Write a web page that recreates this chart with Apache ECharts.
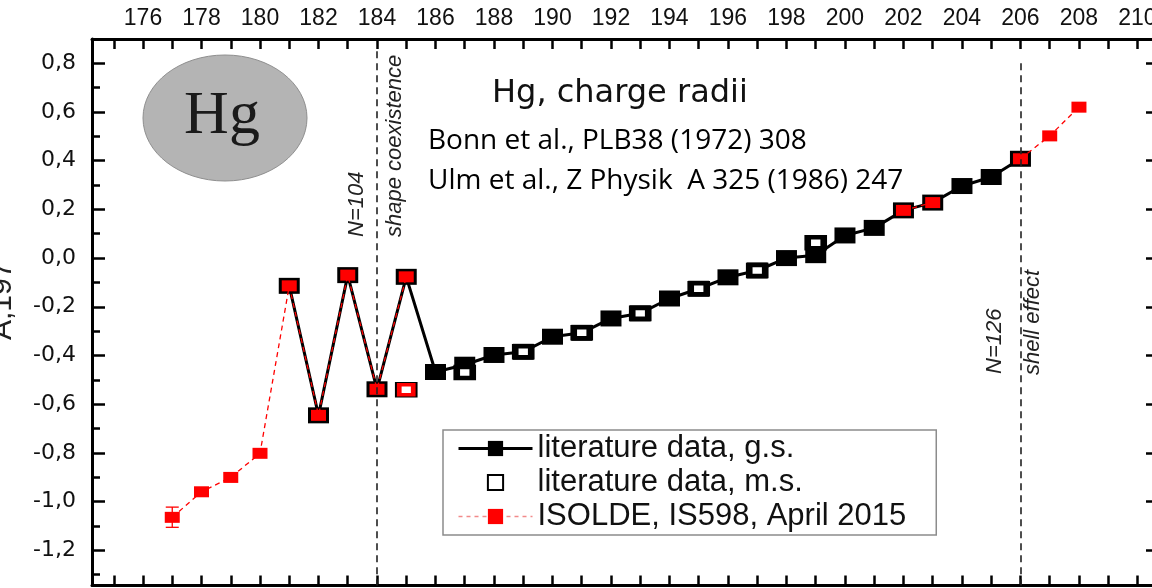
<!DOCTYPE html>
<html>
<head>
<meta charset="utf-8">
<script src="https://cdn.jsdelivr.net/npm/echarts@6/dist/echarts.min.js"></script>
<style>
  html, body { margin: 0; padding: 0; background: #fff; }
  #main { width: 1152px; height: 588px; }
</style>
</head>
<body>
<div id="main"></div>
<script>
// mass numbers and delta <r^2> values
const gsA = [181, 182, 183, 184, 185, 186, 187, 188, 189, 190, 191, 192, 193,
  194, 195, 196, 197, 198, 199, 200, 201, 202, 203, 204, 205, 206]
const gsV = [-0.114, -0.646, -0.070, -0.539, -0.077, -0.468, -0.438, -0.398, -0.385, -0.323, -0.307, -0.248, -0.227,
  -0.166, -0.126, -0.079, -0.051, 0.000, 0.012, 0.093, 0.124, 0.196, 0.228, 0.296, 0.333, 0.408]

const msA = [185, 187, 189, 191, 193, 195, 197, 199]
const msV = [-0.541, -0.470, -0.385, -0.307, -0.227, -0.126, -0.051, 0.063]

const isoA = [177, 178, 179, 180, 181, 182, 183, 184, 185, 202, 203, 206, 207, 208]
const isoV = [-1.065, -0.960, -0.901, -0.802, -0.114, -0.646, -0.070, -0.539, -0.077, 0.196, 0.228, 0.408, 0.502, 0.620]

const isoMsA = [185]
const isoMsV = [-0.541]

const errA = [177]
const errLo = [-1.106]
const errHi = [-1.023]

// axis ticks and labels
const xLabelValues = [176, 178, 180, 182, 184, 186, 188, 190, 192, 194, 196, 198, 200, 202, 204, 206, 208, 210]
const xTickValues = [175, 176, 177, 178, 179, 180, 181, 182, 183, 184, 185, 186, 187, 188, 189, 190, 191, 192,
  193, 194, 195, 196, 197, 198, 199, 200, 201, 202, 203, 204, 205, 206, 207, 208, 209, 210]
const yLabelValues = [-1.2, -1.0, -0.8, -0.6, -0.4, -0.2, 0.0, 0.2, 0.4, 0.6, 0.8]
const yMinorValues = [-1.3, -1.1, -0.9, -0.7, -0.5, -0.3, -0.1, 0.1, 0.3, 0.5, 0.7]

const pairs = (xs, ys) => xs.map((x, i) => [x, ys[i]])
// break the ISOLDE line where mass numbers are not consecutive
const isoData = []
isoA.forEach((a, i) => {
  if (i > 0 && a - isoA[i - 1] > 1) isoData.push([a - 0.5, '-'])
  isoData.push([a, isoV[i]])
})

const X_MIN = 174.256, X_MAX = 210.6, Y_MIN = -1.345, Y_MAX = 0.9
const sans = 'Liberation Sans, Arial, sans-serif'
const narrow = 'Liberation Sans Narrow, Liberation Sans, Arial, sans-serif'

const chart = echarts.init(document.getElementById('main'))

const baseX = {
  type: 'value', min: X_MIN, max: X_MAX, splitLine: { show: false },
  axisLine: { onZero: false, lineStyle: { color: '#000', width: 3 } }
}
const baseY = {
  type: 'value', min: Y_MIN, max: Y_MAX, splitLine: { show: false },
  axisLine: { onZero: false, lineStyle: { color: '#000', width: 3 } }
}

chart.setOption({
  animation: false,
  backgroundColor: '#fff',
  grid: { left: 92, top: 39, right: -3, bottom: 2.5, containLabel: false, outerBoundsMode: 'none' },
  xAxis: [
    Object.assign({}, baseX, {
      position: 'top',
      axisTick: { inside: true, length: 10, customValues: xTickValues, lineStyle: { color: '#000', width: 2.5 } },
      axisLabel: { customValues: xLabelValues, margin: 9, fontSize: 23, fontFamily: sans, color: '#111' }
    }),
    Object.assign({}, baseX, {
      position: 'bottom',
      axisTick: { inside: true, length: 10, customValues: xTickValues, lineStyle: { color: '#000', width: 2.5 } },
      axisLabel: { show: false }
    })
  ],
  yAxis: [
    Object.assign({}, baseY, {
      position: 'left',
      axisTick: { inside: true, length: 13, customValues: yLabelValues, lineStyle: { color: '#000', width: 2.5 } },
      axisLabel: {
        customValues: yLabelValues, margin: 16, fontSize: 22, color: '#111',
        fontFamily: 'DejaVu Sans, sans-serif',
        formatter: v => v.toFixed(1).replace('.', ',')
      }
    }),
    Object.assign({}, baseY, {
      position: 'left',
      axisLine: { show: false, onZero: false },
      axisTick: { inside: true, length: 8, customValues: yMinorValues, lineStyle: { color: '#000', width: 2.5 } },
      axisLabel: { show: false }
    }),
    Object.assign({}, baseY, {
      position: 'right',
      axisLine: { show: false, onZero: false },
      axisTick: { inside: true, length: 9, customValues: yLabelValues, lineStyle: { color: '#000', width: 2.5 } },
      axisLabel: { show: false }
    })
  ],
  legend: {
    orient: 'vertical', left: 443, top: 430,
    data: [
      { name: 'literature data, g.s.', lineStyle: { width: 3, color: '#000' } },
      { name: 'literature data, m.s.' },
      { name: 'ISOLDE, IS598, April 2015', lineStyle: { color: '#f28a8a', width: 1.5, type: [4, 4] } }
    ],
    itemWidth: 74, itemHeight: 19, itemGap: 3,
    padding: [3, 30, 3, 14],
    borderColor: '#8c8c8c', borderWidth: 1.5, backgroundColor: '#fff',
    selectedMode: false,
    textStyle: { fontSize: 31, fontFamily: sans, color: '#111', lineHeight: 28 }
  },
  series: [
    {
      name: 'literature data, g.s.',
      type: 'line', z: 2,
      data: pairs(gsA, gsV),
      symbol: 'rect', symbolSize: [21, 16],
      itemStyle: { color: '#000' },
      lineStyle: { color: '#000', width: 3 }
    },
    {
      name: 'literature data, m.s.',
      type: 'line', z: 3,
      data: pairs(msA, msV),
      symbol: 'rect', symbolSize: [16, 11],
      itemStyle: { color: '#fff', borderColor: '#000', borderWidth: 5.5 },
      lineStyle: { width: 0, opacity: 0 }
    },
    {
      name: 'ISOLDE, IS598, April 2015',
      type: 'line', z: 4,
      data: isoData,
      symbol: 'rect', symbolSize: [15, 11],
      itemStyle: { color: '#ff0000' },
      lineStyle: { color: '#ff0000', width: 1.3, type: [5, 4] }
    },
    {
      name: 'ISOLDE m.s.',
      type: 'line', z: 5,
      data: pairs(isoMsA, isoMsV),
      symbol: 'rect', symbolSize: [14, 10],
      itemStyle: { color: '#fff', borderColor: '#ff0000', borderWidth: 4 },
      lineStyle: { opacity: 0, width: 0 },
      markLine: {
        silent: true, symbol: 'none',
        label: { show: false },
        lineStyle: { color: '#222', width: 1.6, type: [7, 5] },
        data: [
          [{ coord: [184, 0.85] }, { coord: [184, Y_MIN] }],
          [{ coord: [206, 0.8] }, { coord: [206, Y_MIN] }]
        ]
      }
    },
    {
      name: 'error',
      type: 'custom', z: 4,
      data: errA.map((a, i) => [a, errLo[i], errHi[i]]),
      encode: { x: 0, y: [1, 2] },
      renderItem: (params, api) => {
        const lo = api.coord([api.value(0), api.value(1)])
        const hi = api.coord([api.value(0), api.value(2)])
        const st = { stroke: '#ff0000', lineWidth: 1.3 }
        return {
          type: 'group',
          children: [
            { type: 'line', shape: { x1: lo[0], y1: lo[1], x2: hi[0], y2: hi[1] }, style: st },
            { type: 'line', shape: { x1: lo[0] - 6.5, y1: lo[1], x2: lo[0] + 6.5, y2: lo[1] }, style: st },
            { type: 'line', shape: { x1: hi[0] - 6.5, y1: hi[1], x2: hi[0] + 6.5, y2: hi[1] }, style: st }
          ]
        }
      }
    }
  ],
  graphic: [
    // Hg badge
    { type: 'ellipse', shape: { cx: 225, cy: 118, rx: 82, ry: 63 }, style: { fill: '#b4b4b4', stroke: '#8f8f8f', lineWidth: 1 }, z: 10 },
    { type: 'text', x: 222, y: 117, z: 11, style: { text: 'Hg', fontFamily: 'Liberation Serif, Times New Roman, serif', fontSize: 62, fill: '#1a1a1a', align: 'center', verticalAlign: 'middle' } },
    // titles
    { type: 'text', x: 492, y: 94, z: 11, style: { text: 'Hg, charge radii', fontFamily: 'DejaVu Sans, sans-serif', fontSize: 32, fill: '#111', align: 'left', verticalAlign: 'middle' } },
    { type: 'text', x: 428, y: 141, z: 11, style: { text: 'Bonn et al., PLB38 (1972) 308', fontFamily: 'Open Sans, sans-serif', fontSize: 28, fill: '#000', align: 'left', verticalAlign: 'middle' } },
    { type: 'text', x: 428, y: 181, z: 11, style: { text: 'Ulm et al., Z Physik  A 325 (1986) 247', fontFamily: 'Open Sans, sans-serif', fontSize: 28, fill: '#000', align: 'left', verticalAlign: 'middle' } },
    // rotated annotations
    { type: 'text', x: 357, y: 237, rotation: Math.PI / 2, z: 11, style: { text: 'N=104', fontFamily: narrow, fontStyle: 'italic', fontSize: 22, fill: '#222', align: 'left', verticalAlign: 'middle' } },
    { type: 'text', x: 395, y: 237, rotation: Math.PI / 2, z: 11, style: { text: 'shape coexistence', fontFamily: narrow, fontStyle: 'italic', fontSize: 22, fill: '#222', align: 'left', verticalAlign: 'middle' } },
    { type: 'text', x: 995, y: 374, rotation: Math.PI / 2, z: 11, style: { text: 'N=126', fontFamily: narrow, fontStyle: 'italic', fontSize: 22, fill: '#222', align: 'left', verticalAlign: 'middle' } },
    { type: 'text', x: 1033, y: 375, rotation: Math.PI / 2, z: 11, style: { text: 'shell effect', fontFamily: narrow, fontStyle: 'italic', fontSize: 22, fill: '#222', align: 'left', verticalAlign: 'middle' } },
    // y axis title, cut off at the left edge
    { type: 'text', x: 3, y: 340, rotation: Math.PI / 2, z: 11, style: { text: 'A,197', fontFamily: sans, fontSize: 30, fill: '#222', align: 'left', verticalAlign: 'middle' } }
  ]
})
</script>
</body>
</html>
